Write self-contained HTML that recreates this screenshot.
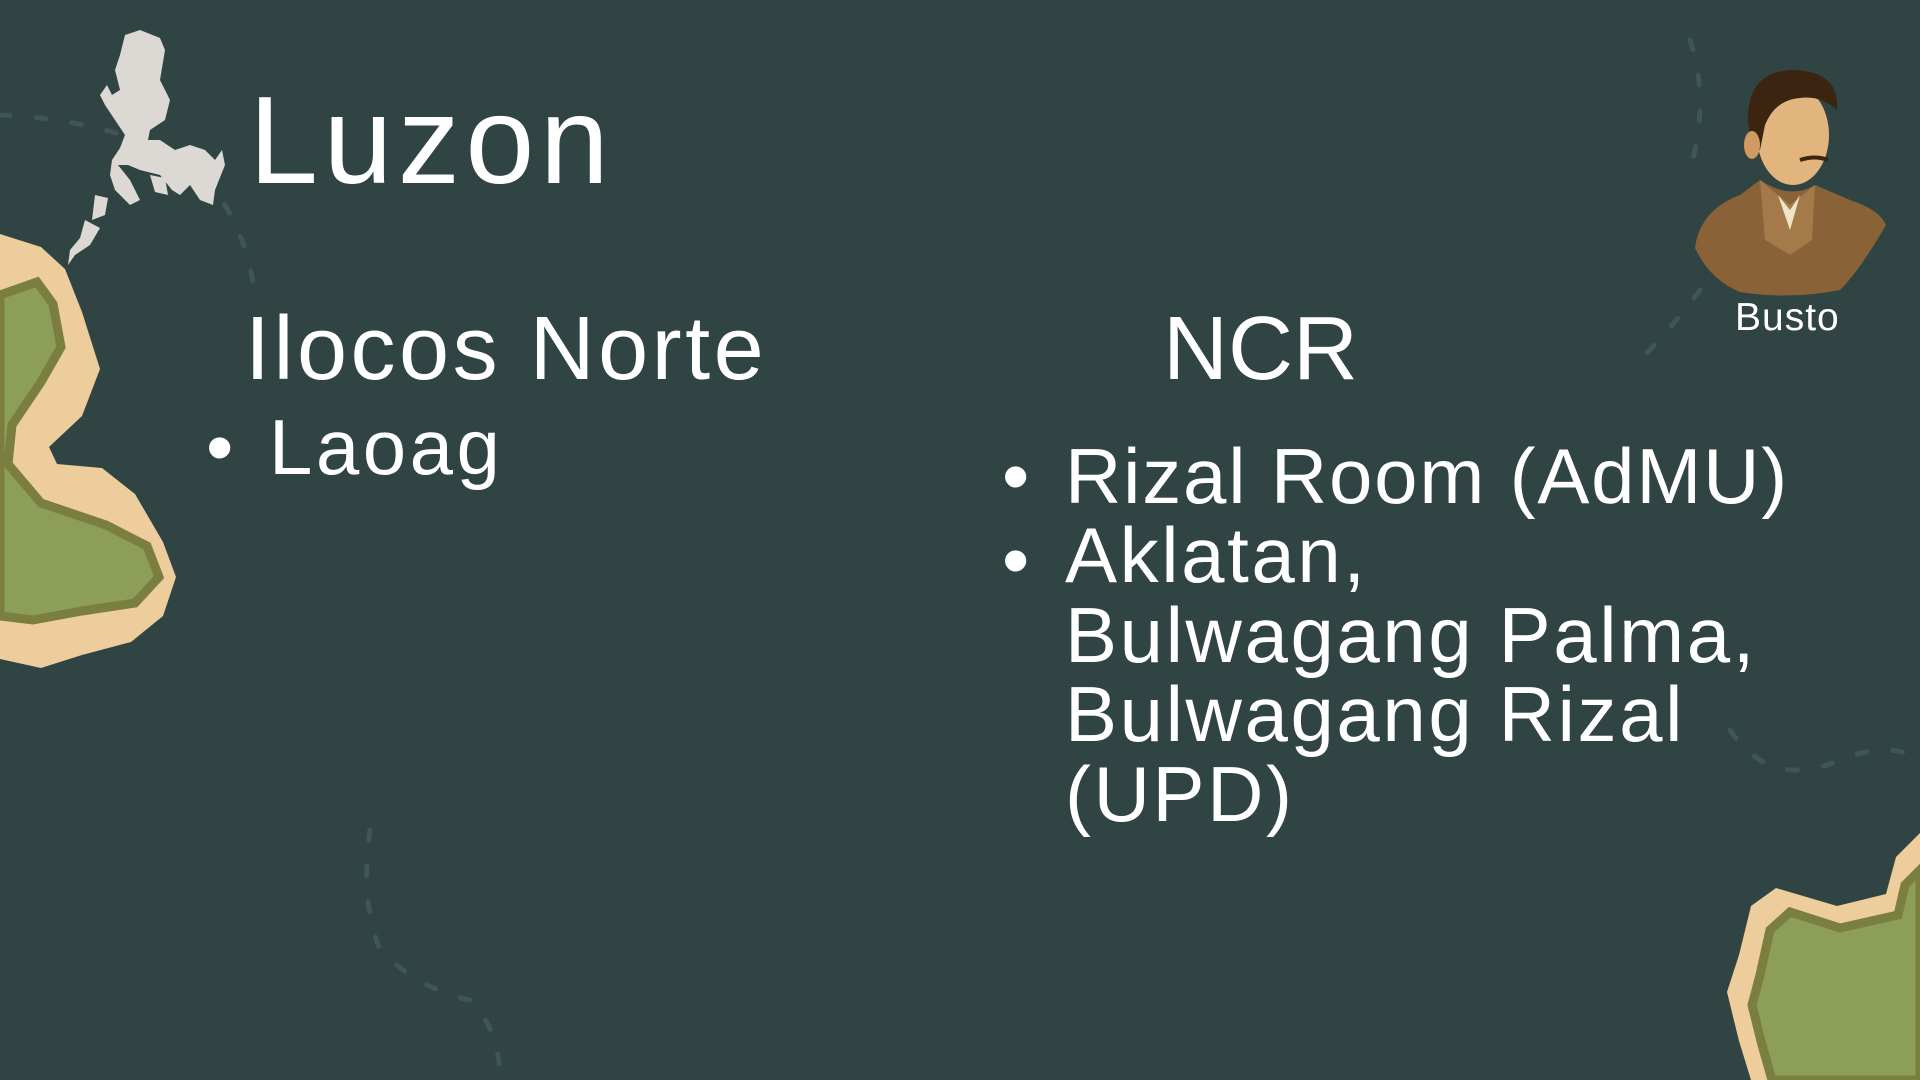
<!DOCTYPE html>
<html><head><meta charset="utf-8"><style>
html,body{margin:0;padding:0}
body{width:1920px;height:1080px;background:#304444;position:relative;overflow:hidden;font-family:"Liberation Sans",sans-serif;color:#fff}
.t{position:absolute;white-space:nowrap;line-height:1}
svg{position:absolute;left:0;top:0}
</style></head><body>
<svg width="1920" height="1080">
  <g stroke="#3f5656" stroke-width="5" stroke-linecap="round" fill="none" stroke-dasharray="10 26">
    <path d="M0 115 Q120 120 200 170 Q250 230 255 300"/>
    <path d="M1690 40 Q1710 100 1690 170"/>
    <path d="M1700 290 Q1670 330 1640 360"/>
    <path d="M370 830 Q360 900 380 950 Q420 990 470 1000 Q500 1030 500 1080"/>
    <path d="M1730 730 Q1770 790 1840 760 Q1890 740 1920 760"/>
  </g>
  <path fill="#edcd9b" d="M0 234 L41 247 L65 269 L82 312 L100 369 L82 416 L49 447 L57 464 L102 468 L135 494 L163 542 L176 577 L163 616 L131 642 L82 655 L41 668 L0 659 Z"/>
  <path fill="#8d9e5a" stroke="#7a7f40" stroke-width="9" d="M0 295 L37 282 L53 304 L61 347 L41 382 L12 425 L8 464 L41 503 L106 525 L147 546 L159 577 L135 603 L82 611 L33 620 L0 616 Z"/>
  <path fill="#edcd9b" d="M1920 833 L1896 857 L1886 894 L1837 906 L1776 888 L1751 906 L1739 955 L1727 992 L1739 1041 L1751 1080 L1920 1080 Z"/>
  <path fill="#8d9e5a" stroke="#7a7f40" stroke-width="9" d="M1920 870 L1905 885 L1898 915 L1840 928 L1790 912 L1770 930 L1760 975 L1752 1005 L1762 1045 L1772 1080 L1920 1080 Z"/>
  <path fill="#dcd8d3" d="M125 35 L140 30 L160 38 L165 50 L160 80 L170 100 L165 120 L150 130 L148 140 L160 140 L175 150 L190 145 L205 150 L215 160 L222 150 L225 165 L215 190 L213 205 L200 200 L190 185 L180 195 L172 190 L160 175 L140 170 L128 165 L118 165 L130 180 L140 200 L130 205 L115 190 L110 175 L112 160 L120 148 L125 135 L115 120 L105 105 L100 95 L107 85 L112 95 L120 90 L115 70 L120 55 Z M95 195 L108 198 L105 215 L92 220 Z M85 220 L100 228 L90 245 L75 255 L68 265 L70 250 L80 238 Z M150 175 L165 178 L168 195 L155 192 Z"/>
  <g>
    <path d="M1695 248 Q1700 210 1740 195 L1760 180 Q1790 200 1815 185 L1850 200 Q1880 210 1886 225 Q1860 270 1840 290 Q1790 300 1740 292 Q1710 280 1695 248 Z" fill="#8a6238"/>
    <path d="M1760 180 L1790 205 L1815 185 L1812 240 L1790 255 L1765 240 Z" fill="#a57a4a"/>
    <path d="M1778 195 L1790 210 L1800 195 L1790 230 Z" fill="#f0e4c8"/>
    <ellipse cx="1793" cy="135" rx="36" ry="50" fill="#e3b57e"/>
    <path d="M1748 115 Q1750 70 1795 70 Q1840 72 1837 110 Q1820 95 1800 98 Q1775 100 1765 125 L1760 150 Q1748 140 1748 115 Z" fill="#3b2410"/>
    <ellipse cx="1752" cy="145" rx="8" ry="14" fill="#d09a62"/>
    <path d="M1800 160 Q1815 155 1828 160" stroke="#3b2410" stroke-width="4" fill="none"/>
  </g>
</svg>
<div class="t" style="left:249px;top:79px;font-size:124px;letter-spacing:5.5px">Luzon</div>
<div class="t" style="left:245px;top:304px;font-size:90px;letter-spacing:3.5px">Ilocos Norte</div>
<div class="t" style="left:206px;top:408px;font-size:78px">•</div>
<div class="t" style="left:269px;top:408px;font-size:78px;letter-spacing:3.5px">Laoag</div>
<div class="t" style="left:1163px;top:304px;font-size:90px">NCR</div>
<div class="t" style="left:1002px;top:437px;font-size:78px">•</div>
<div class="t" style="left:1065px;top:437px;font-size:78px;letter-spacing:1.8px">Rizal Room (AdMU)</div>
<div class="t" style="left:1002px;top:521px;font-size:78px">•</div>
<div style="position:absolute;left:1065px;top:516px;font-size:78px;line-height:79.6px;letter-spacing:2.6px">Aklatan,<br>Bulwagang Palma,<br>Bulwagang Rizal<br>(UPD)</div>
<div class="t" style="left:1735px;top:298px;font-size:39px;letter-spacing:1px">Busto</div>
</body></html>
